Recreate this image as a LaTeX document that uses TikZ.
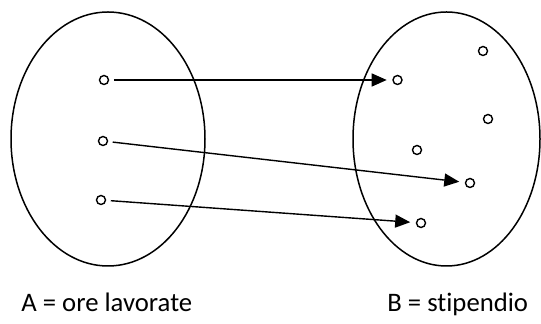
\documentclass[tikz,border=0pt]{standalone}
\usepackage{fontspec}
\setmainfont[Ligatures=NoCommon]{Carlito}
\usetikzlibrary{arrows.meta}
\begin{document}
\begin{tikzpicture}[x=0.5pt,y=-0.5pt,
  setline/.style={line width=0.75pt},
  dot/.style={circle,draw,line width=0.7pt,minimum size=4.5pt,inner sep=0pt},
  arr/.style={line width=0.7pt,-{Triangle[length=7.5pt,width=6.5pt]},shorten <=2.3pt,shorten >=2.8pt},
  lbl/.style={anchor=base west,inner sep=0pt,font=\fontsize{13.35pt}{16pt}\selectfont}]
\useasboundingbox (0,0) rectangle (541,324);
\draw[setline] (108,139) ellipse [x radius=97, y radius=127];
\draw[setline] (446.5,139) ellipse [x radius=93.5, y radius=127];
\node[dot] (a1) at (104,80) {};
\node[dot] (a2) at (103,141) {};
\node[dot] (a3) at (101,200) {};
\node[dot] (b1) at (397.5,80) {};
\node[dot] (b2) at (483,51) {};
\node[dot] (b3) at (488,119) {};
\node[dot] (b4) at (417,150) {};
\node[dot] (b5) at (470,183) {};
\node[dot] (b6) at (421,223) {};
\draw[arr] (a1) -- (b1);
\draw[arr] (a2) -- (b5);
\draw[arr] (a3) -- (b6);
\node[lbl] (la) at (21,312) {A = ore lavorate};
\node[lbl] (lb) at (387,312) {B = stipendio};
\end{tikzpicture}
\end{document}
